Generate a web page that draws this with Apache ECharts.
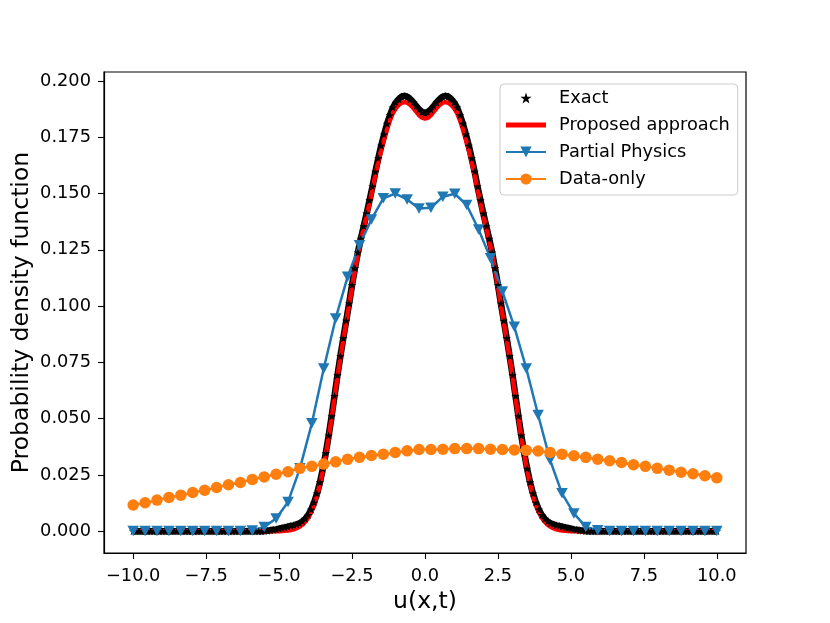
<!DOCTYPE html>
<html>
<head>
<meta charset="utf-8">
<script src="https://cdn.jsdelivr.net/npm/echarts@6/dist/echarts.min.js"></script>
<style>
  html, body { margin: 0; padding: 0; background: #fff; }
  .chart { width: 830px; height: 623px; }
</style>
</head>
<body>
<div class="chart"></div>
<script>
// tick labels
var xTicks = [-10, -7.5, -5, -2.5, 0, 2.5, 5, 7.5, 10];
var yTicks = [0, 0.025, 0.05, 0.075, 0.1, 0.125, 0.15, 0.175, 0.2];

// Exact: sampled every 0.1 from -10 to 10 (201 values)
var exactY = [
  0,0,0,0,0,0,0,0,0,0,
  0,0,0,0,0,0,0,0,0,0,
  0,0,0,0,0,0,0,0,0,0,
  0,0,0,0,0,0,0,0,0,0,
  0,0,0,0,0,
  0.0001,0.0002,0.0004,0.0006,0.0008,
  0.0011,0.0014,0.0017,0.0020,0.0023,0.0026,0.0030,0.0035,0.0043,0.0055,
  0.0072,0.0096,0.0127,0.0167,0.0217,0.0278,0.0347,0.0425,0.0511,0.0601,
  0.0693,0.0777,0.0857,0.0935,0.1012,0.1094,0.1168,0.1238,0.1299,0.1355,
  0.1411,0.1470,0.1531,0.1597,0.1657,0.1713,0.1763,0.1810,0.1848,0.1882,
  0.1904,0.1919,0.1931,0.1934,0.1930,0.1919,0.1905,0.1889,0.1873,0.1862,
  0.1858,
  0.1862,0.1873,0.1889,0.1905,0.1919,0.1930,0.1934,0.1931,0.1919,0.1904,
  0.1882,0.1848,0.1810,0.1763,0.1713,0.1657,0.1597,0.1531,0.1470,0.1411,
  0.1355,0.1299,0.1238,0.1168,0.1094,0.1012,0.0935,0.0857,0.0777,0.0693,
  0.0601,0.0511,0.0425,0.0347,0.0278,0.0217,0.0167,0.0127,0.0096,0.0072,
  0.0055,0.0043,0.0035,0.0030,0.0026,0.0023,0.0020,0.0017,0.0014,0.0011,
  0.0008,0.0006,0.0004,0.0002,0.0001,
  0,0,0,0,0,
  0,0,0,0,0,0,0,0,0,0,
  0,0,0,0,0,0,0,0,0,0,
  0,0,0,0,0,0,0,0,0,0,
  0,0,0,0,0,0,0,0,0,0
];

// Proposed approach: same 0.1 grid (201 values)
var proposedY = [
  0,0,0,0,0,0,0,0,0,0,
  0,0,0,0,0,0,0,0,0,0,
  0,0,0,0,0,0,0,0,0,0,
  0,0,0,0,0,0,0,0,0,0,
  0,0,0,0,0,0,0,0,0,0,
  0,
  0.0001,0.0002,0.0003,0.0005,0.0008,0.0013,0.0020,0.0029,0.0042,0.0060,
  0.0085,0.0117,0.0158,0.0209,0.0270,0.0340,0.0418,0.0504,0.0594,0.0686,
  0.0770,0.0850,0.0928,0.1005,0.1087,0.1160,0.1230,0.1290,0.1345,0.1400,
  0.1458,0.1518,0.1583,0.1640,0.1692,0.1740,0.1785,0.1825,0.1858,0.1879,
  0.1894,0.1903,0.1906,0.1903,0.1894,0.1880,0.1864,0.1848,0.1837,
  0.1833,
  0.1837,0.1848,0.1864,0.1880,0.1894,0.1903,0.1906,0.1903,0.1894,
  0.1879,0.1858,0.1825,0.1785,0.1740,0.1692,0.1640,0.1583,0.1518,0.1458,
  0.1400,0.1345,0.1290,0.1230,0.1160,0.1087,0.1005,0.0928,0.0850,0.0770,
  0.0686,0.0594,0.0504,0.0418,0.0340,0.0270,0.0209,0.0158,0.0117,0.0085,
  0.0060,0.0042,0.0029,0.0020,0.0013,0.0008,0.0005,0.0003,0.0002,0.0001,
  0,
  0,0,0,0,0,0,0,0,0,0,
  0,0,0,0,0,0,0,0,0,0,
  0,0,0,0,0,0,0,0,0,0,
  0,0,0,0,0,0,0,0,0,0,
  0,0,0,0,0,0,0,0,0,0
];

// Partial Physics: 50 points between -10 and 10
var partialY = [
  0.0001,0.0001,0.0001,0.0001,0.0001,0.0001,0.0001,0.0001,0.0001,0.0001,
  0.0003,0.0019,0.0056,0.0130,0.0279,0.0479,0.0723,0.0945,0.1130,0.1270,
  0.1385,0.1479,0.1500,0.1474,0.1434,0.1437,0.1486,0.1499,0.1449,0.1340,
  0.1212,0.1065,0.0908,0.0723,0.0516,0.0316,0.0168,0.0079,0.0019,0.0004,
  0.0001,0.0001,0.0001,0.0001,0.0001,0.0001,0.0001,0.0001,0.0001,0.0001
];

// Data-only: 50 points between -10 and 10
var dataOnlyY = [
  0.0116,0.0126,0.0138,0.0150,0.0160,0.0172,0.0182,0.0194,0.0206,0.0216,
  0.0230,0.0241,0.0253,0.0264,0.0279,0.0288,0.0298,0.0308,0.0319,0.0328,
  0.0336,0.0342,0.0350,0.0357,0.0363,0.0363,0.0364,0.0367,0.0367,0.0367,
  0.0364,0.0363,0.0361,0.0359,0.0356,0.0350,0.0342,0.0335,0.0328,0.0320,
  0.0313,0.0305,0.0295,0.0288,0.0279,0.0271,0.0262,0.0255,0.0246,0.0237
];

function pairsStep(ys, x0, step) {
  var out = [];
  for (var i = 0; i < ys.length; i++) out.push([x0 + i * step, ys[i]]);
  return out;
}
function pairsLin(ys, a, b) {
  var out = [];
  var n = ys.length;
  for (var i = 0; i < n; i++) out.push([a + i * (b - a) / (n - 1), ys[i]]);
  return out;
}

var font = 'DejaVu Sans';
var star = 'path://M0,-1L0.2245,-0.309L0.9511,-0.309L0.3633,0.118L0.5878,0.809L0,0.382L-0.5878,0.809L-0.3633,0.118L-0.9511,-0.309L-0.2245,-0.309Z';

var chart = echarts.init(document.querySelector('.chart'));

var option = {
  animation: false,
  backgroundColor: '#fff',
  grid: {
    left: 104, right: 84, top: 72, bottom: 70,
    outerBoundsMode: 'none', containLabel: false,
    show: true, borderColor: '#000', borderWidth: 1.2, backgroundColor: 'transparent'
  },
  legend: {
    left: 500, top: 84,
    orient: 'vertical',
    itemWidth: 40, itemHeight: 14, itemGap: 9,
    padding: [5, 8, 7, 5],
    backgroundColor: '#fff',
    borderColor: '#cccccc', borderWidth: 1, borderRadius: 4,
    selectedMode: false,
    textStyle: { fontFamily: font, fontSize: 17.8, color: '#000', lineHeight: 18, padding: [0, 0, 0, 8] },
    data: [
      'Exact',
      { name: 'Proposed approach', icon: 'path://M0,0H40V5H0Z' },
      'Partial Physics',
      'Data-only'
    ]
  },
  xAxis: {
    type: 'value', min: -11, max: 11,
    name: 'u(x,t)', nameLocation: 'middle', nameGap: 37, nameMoveOverlap: false,
    nameTextStyle: { fontFamily: font, fontSize: 23.5, color: '#000' },
    axisLine: { show: true, onZero: false, lineStyle: { color: '#000', width: 1.2 } },
    splitLine: { show: false },
    axisTick: { show: true, inside: false, length: 6, customValues: xTicks, lineStyle: { color: '#000', width: 1.1 } },
    axisLabel: {
      customValues: xTicks, margin: 14,
      fontFamily: font, fontSize: 17.8, color: '#000',
      formatter: function (v) { return v.toFixed(1).replace('-', '\u2212'); }
    }
  },
  yAxis: {
    type: 'value', min: -0.0097, max: 0.204,
    name: 'Probability density function', nameLocation: 'middle', nameGap: 70, nameMoveOverlap: false,
    nameTextStyle: { fontFamily: font, fontSize: 23.5, color: '#000' },
    axisLine: { show: true, onZero: false, lineStyle: { color: '#000', width: 1.2 } },
    splitLine: { show: false },
    axisTick: { show: true, inside: false, length: 6, customValues: yTicks, lineStyle: { color: '#000', width: 1.1 } },
    axisLabel: {
      customValues: yTicks, margin: 13,
      fontFamily: font, fontSize: 17.8, color: '#000',
      formatter: function (v) { return v.toFixed(3); }
    }
  },
  series: [
    {
      // dense band of the exact markers
      name: 'Exact band', type: 'line',
      data: pairsStep(exactY, -10, 0.1),
      symbol: 'none',
      lineStyle: { color: '#000', width: 6.5 },
      emphasis: { disabled: true }
    },
    {
      name: 'Exact', type: 'line',
      data: pairsStep(exactY, -10, 0.1),
      symbol: star, symbolSize: 8.5, symbolKeepAspect: true, showAllSymbol: true,
      itemStyle: { color: '#000' },
      lineStyle: { width: 0, opacity: 0 },
      emphasis: { disabled: true }
    },
    {
      name: 'Proposed approach', type: 'line',
      data: pairsStep(proposedY, -10, 0.1),
      symbol: 'none',
      itemStyle: { color: '#ff0000' },
      lineStyle: { color: '#ff0000', width: 4.5 },
      emphasis: { disabled: true }
    },
    {
      name: 'Partial Physics', type: 'line',
      data: pairsLin(partialY, -10, 10),
      symbol: 'triangle', symbolRotate: 180, symbolSize: [11.5, 10.5], showAllSymbol: true,
      itemStyle: { color: '#1f77b4' },
      lineStyle: { color: '#1f77b4', width: 2.5 },
      emphasis: { disabled: true }
    },
    {
      name: 'Data-only', type: 'line',
      data: pairsLin(dataOnlyY, -10, 10),
      symbol: 'circle', symbolSize: 11.5, showAllSymbol: true,
      itemStyle: { color: '#ff7f0e' },
      lineStyle: { color: '#ff7f0e', width: 2.5 },
      emphasis: { disabled: true }
    }
  ]
};

chart.setOption(option);
</script>
</body>
</html>
